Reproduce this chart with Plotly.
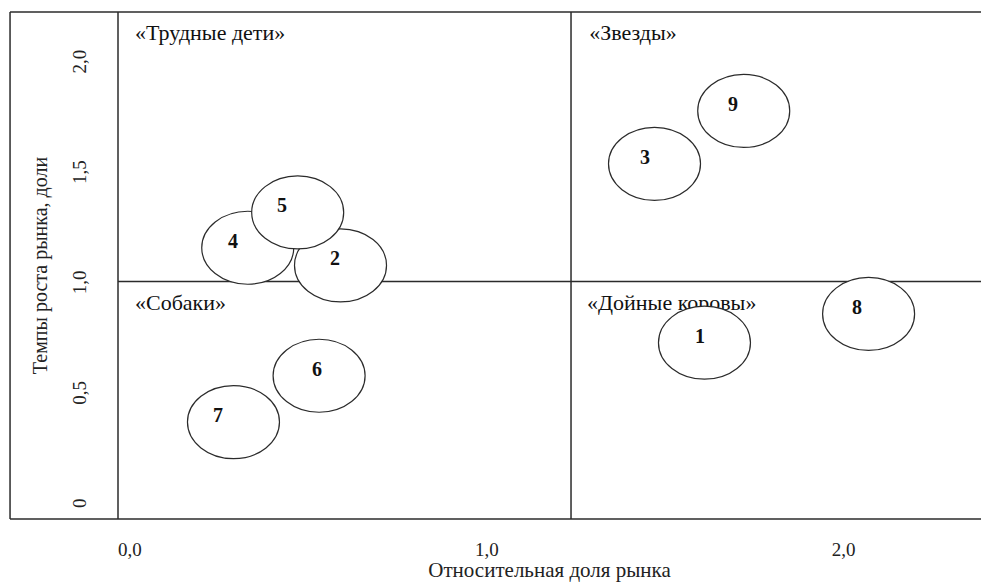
"""BCG matrix: nine business units placed by relative market share and market growth."""

import plotly.graph_objects as go

# Business units (number shown inside each ellipse)
unit_ids = ["1", "2", "3", "4", "5", "6", "7", "8", "9"]
market_share = [1.61, 0.59, 1.47, 0.33, 0.47, 0.53, 0.29, 2.07, 1.72]
market_growth = [0.74, 1.09, 1.55, 1.17, 1.33, 0.59, 0.38, 0.87, 1.79]

# Axis ticks
x_tick_vals = [0.0, 1.0, 2.0]
x_tick_text = ["0,0", "1,0", "2,0"]
y_tick_vals = [0.0, 0.5, 1.0, 1.5, 2.0]
y_tick_text = ["0", "0,5", "1,0", "1,5", "2,0"]

# Quadrant borders
share_split = 1.236
growth_split = 1.017

# Quadrant names
quadrant_names = ["«Трудные дети»", "«Звезды»", "«Собаки»", "«Дойные коровы»"]
quadrant_x = [0.014, 1.287, 0.014, 1.281]
quadrant_y = [2.138, 2.138, 0.911, 0.915]

# Styling
FONT = "Liberation Serif"
LINE = "#2b2b2b"
label_dx = [-4, -6, -10, -15, -16, -2, -15, -12, -11]

fig = go.Figure()

# Quadrant names go in a trace so the white ellipses can sit on top of them
fig.add_trace(go.Scatter(
    x=quadrant_x,
    y=quadrant_y,
    text=quadrant_names,
    mode="text",
    textposition="middle right",
    textfont=dict(family=FONT, size=22, color="#111"),
    hoverinfo="skip",
    showlegend=False,
))

# Outer frame and quadrant lines
frame = dict(type="line", line=dict(color=LINE, width=1.5), layer="below")
fig.add_shape(frame, xref="paper", yref="paper", x0=-0.1251, x1=1.02, y0=1, y1=1)
fig.add_shape(frame, xref="paper", yref="paper", x0=-0.1251, x1=1.02, y0=0, y1=0)
fig.add_shape(frame, xref="paper", yref="paper", x0=-0.1251, x1=-0.1251, y0=0, y1=1)
fig.add_shape(frame, xref="paper", yref="paper", x0=0, x1=0, y0=0, y1=1)
fig.add_shape(frame, xref="x", yref="paper", x0=share_split, x1=share_split, y0=0, y1=1)
fig.add_shape(frame, xref="paper", yref="y", x0=0, x1=1.02, y0=growth_split, y1=growth_split)

# Ellipses, drawn in an order that keeps 5 over 4 and 2
draw_order = [3, 1, 4, 0, 2, 5, 6, 7, 8]
for i in draw_order:
    fig.add_shape(
        type="circle",
        xref="x", yref="y",
        xsizemode="pixel", ysizemode="pixel",
        xanchor=market_share[i], yanchor=market_growth[i],
        x0=-46, x1=46, y0=-36.5, y1=36.5,
        line=dict(color=LINE, width=1.2),
        fillcolor="white",
        layer="above",
    )

# Unit numbers
for i, uid in enumerate(unit_ids):
    fig.add_annotation(
        x=market_share[i], y=market_growth[i],
        text="<b>" + uid + "</b>",
        showarrow=False,
        xshift=label_dx[i], yshift=7,
        font=dict(family=FONT, size=20, color="#111"),
    )

fig.update_layout(
    width=981,
    height=582,
    margin=dict(l=118, r=0, t=12, b=63),
    paper_bgcolor="white",
    plot_bgcolor="white",
    showlegend=False,
    font=dict(family=FONT, color="#222"),
    xaxis=dict(
        range=[-0.0336, 2.385],
        tickvals=x_tick_vals,
        ticktext=x_tick_text,
        tickfont=dict(size=19),
        showgrid=False, zeroline=False, showline=False, ticks="",
        ticklabelstandoff=17,
        title=dict(text="Относительная доля рынка", font=dict(size=21), standoff=7),
        automargin=False,
        fixedrange=True,
    ),
    yaxis=dict(
        range=[-0.0589, 2.238],
        tickvals=y_tick_vals,
        ticktext=y_tick_text,
        tickangle=-90,
        tickfont=dict(size=19),
        showgrid=False, zeroline=False, showline=False, ticks="",
        ticklabelstandoff=27,
        title=dict(text="Темпы роста рынка, доли", font=dict(size=20), standoff=16),
        automargin=False,
        fixedrange=True,
    ),
)

# the page's default 8px body margin would shift the whole chart
fig.write_html(
    "out.html",
    config={"displayModeBar": False},
    post_script="document.body.style.margin='0';",
)
